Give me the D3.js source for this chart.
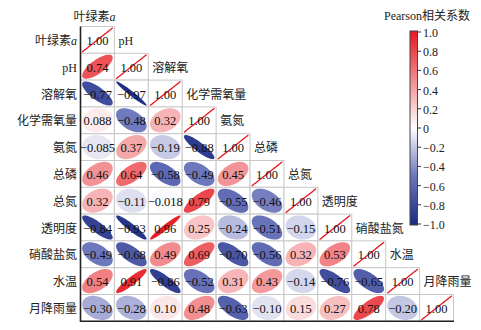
<!DOCTYPE html>
<html><head><meta charset="utf-8">
<script src="https://cdn.jsdelivr.net/npm/d3@7"></script>
<style>body{margin:0;background:#fff}svg{display:block}</style>
</head><body>
<svg id="c" width="481" height="330"></svg>
<script>
const variables = ["叶绿素a","pH","溶解氧","化学需氧量","氨氮","总磷","总氮","透明度","硝酸盐氮","水温","月降雨量"];
// lower-triangle correlations, row i has i values (columns 0..i-1)
const corrRows = [
  [],
  [0.74],
  [-0.77,-0.97],
  [0.088,-0.48,0.32],
  [-0.085,0.37,-0.19,-0.88],
  [0.46,0.64,-0.58,-0.49,0.45],
  [0.32,-0.11,-0.018,0.79,-0.55,-0.46],
  [-0.84,-0.93,0.96,0.25,-0.24,-0.51,-0.15],
  [-0.49,-0.68,0.49,0.69,-0.70,-0.56,0.32,0.53],
  [0.54,0.91,-0.86,-0.52,0.31,0.43,-0.14,-0.76,-0.65],
  [-0.30,-0.28,0.10,0.48,-0.63,-0.10,0.15,0.27,0.78,-0.20]
];
const legendTicks = [1.0,0.8,0.6,0.4,0.2,0,-0.2,-0.4,-0.6,-0.8,-1.0];
const legendTitle = "Pearson相关系数";

const svg = d3.select("#c");
const serif = "'Liberation Serif','Times New Roman',serif";
const cjk = "'Liberation Serif','Noto Sans CJK SC',serif";

const x = d3.scaleBand().domain(variables).range([80.5, 453.5]);
const y = d3.scaleBand().domain(variables).range([26.5, 321.3]);
const cw = x.bandwidth(), ch = y.bandwidth();

const color = d3.scaleLinear()
  .domain([-1,-0.5,0,0.5,1])
  .range(["#1b2a82","#6a74bb","#ffffff","#f2898c","#e8161d"]);

const cells = [];
variables.forEach((rv,i)=>{
  corrRows[i].forEach((v,j)=>cells.push({r:rv,c:variables[j],v:v,diag:false}));
  cells.push({r:rv,c:rv,v:1,diag:true});
});

function fmt(v){
  const s = Math.abs(v) < 0.095 && v !== 0 ? Math.abs(v).toPrecision(2) : Math.abs(v).toFixed(2);
  return (v<0?"\u2212":"") + s;
}
function ellipse(d){
  const cx = x(d.c)+cw/2, cy = y(d.r)+ch/2;
  const dd = Math.acos(Math.max(-1,Math.min(1,d.v)));
  const pts = d3.range(0,73).map(k=>{
    const t = k/72*2*Math.PI;
    return [cx + 0.45*cw*Math.cos(t+dd/2), cy - 0.45*ch*Math.cos(t-dd/2)];
  });
  return d3.line()(pts)+"Z";
}

const g = svg.append("g");
g.selectAll("rect.cell").data(cells).join("rect")
  .attr("x",d=>x(d.c)).attr("y",d=>y(d.r)).attr("width",cw).attr("height",ch)
  .attr("fill","#fff").attr("stroke","#c8c8c8").attr("stroke-width",1);
g.selectAll("path.ell").data(cells).join("path")
  .attr("d",ellipse).attr("fill",d=>color(d.v))
  .attr("stroke",d=>d.diag?color(1):"none").attr("stroke-width",1.3);
g.selectAll("text.val").data(cells).join("text")
  .attr("x",d=>x(d.c)+cw/2).attr("y",d=>y(d.r)+ch/2+1)
  .attr("text-anchor","middle").attr("dominant-baseline","central")
  .attr("font-family",serif).attr("font-size",12.5).attr("fill","#111")
  .text(d=>fmt(d.v));

// axes lines
svg.append("line").attr("x1",80.5).attr("x2",80.5).attr("y1",26.5).attr("y2",322)
  .attr("stroke","#222").attr("stroke-width",1.6);
svg.append("line").attr("x1",80).attr("x2",454).attr("y1",321.3).attr("y2",321.3)
  .attr("stroke","#222").attr("stroke-width",1.6);

function label(sel, name){
  const m = name.match(/^(.*?)(a)$/);
  if(m && name==="叶绿素a"){
    sel.append("tspan").text(m[1]);
    sel.append("tspan").attr("font-style","italic").attr("font-family",serif).text(m[2]);
  } else sel.text(name);
}
// row labels
variables.forEach(v=>{
  const t = svg.append("text").attr("x",77).attr("y",y(v)+ch/2+1)
    .attr("text-anchor","end").attr("dominant-baseline","central")
    .attr("font-family",cjk).attr("font-size",12).attr("fill","#222");
  label(t,v);
});
// column labels above diagonal
variables.forEach((v,i)=>{
  const t = svg.append("text")
    .attr("x", i===0 ? x(v)+cw/2-3 : x(v)+4)
    .attr("y", i===0 ? 17 : y(variables[i-1])+ch/2+1)
    .attr("text-anchor", i===0 ? "middle" : "start").attr("dominant-baseline","central")
    .attr("font-family",cjk).attr("font-size",12).attr("fill","#222");
  label(t,v);
});

// legend
const ly = d3.scaleLinear().domain([1,-1]).range([32,224]);
const defs = svg.append("defs");
const grad = defs.append("linearGradient").attr("id","lg").attr("x1",0).attr("x2",0).attr("y1",0).attr("y2",1);
d3.range(0,21).forEach(k=>{
  const v = 1 - k/10;
  grad.append("stop").attr("offset",k/20).attr("stop-color",color(v));
});
svg.append("rect").attr("x",410).attr("y",ly(1)-1).attr("width",7.5).attr("height",ly(-1)-ly(1)+2)
  .attr("fill","url(#lg)").attr("stroke","#444").attr("stroke-width",1);
const la = svg.append("g");
la.selectAll("line").data(legendTicks).join("line")
  .attr("x1",417.5).attr("x2",421).attr("y1",d=>ly(d)).attr("y2",d=>ly(d))
  .attr("stroke","#333");
la.selectAll("text").data(legendTicks).join("text")
  .attr("x",423).attr("y",d=>ly(d)+1).attr("dominant-baseline","central")
  .attr("font-family",serif).attr("font-size",12).attr("fill","#222")
  .text(d=> d===0 ? "0" : (d<0?"\u2212":"")+Math.abs(d).toFixed(1));
svg.append("text").attr("x",384).attr("y",16).attr("dominant-baseline","central")
  .attr("font-family",cjk).attr("font-size",12).attr("fill","#222").text(legendTitle);
</script>
</body></html>
